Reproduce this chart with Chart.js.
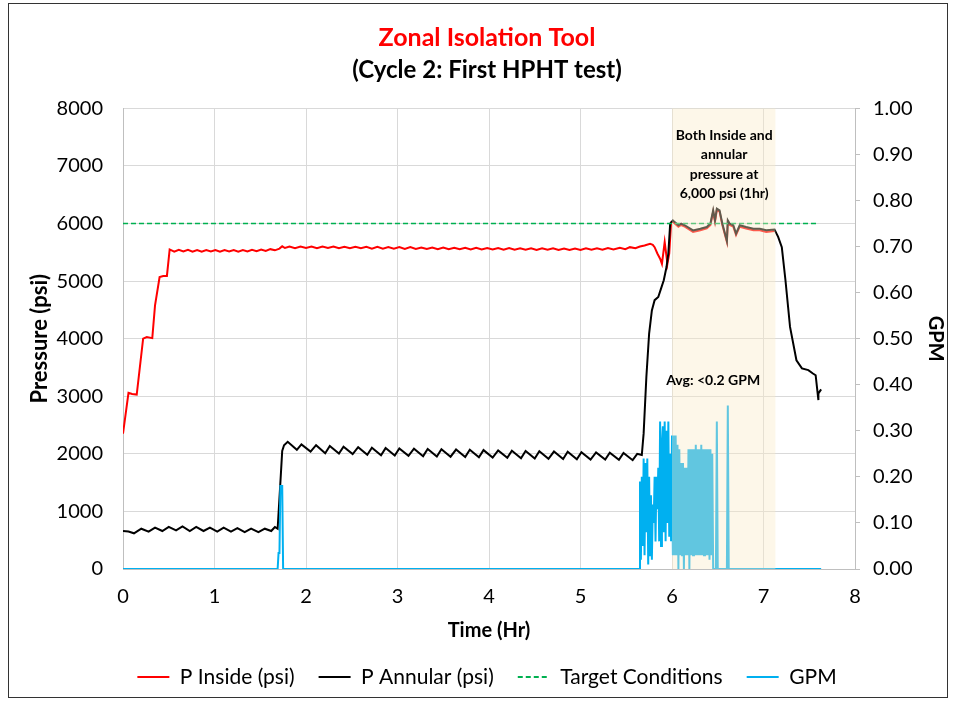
<!DOCTYPE html>
<html>
<head>
<meta charset="utf-8">
<script src="https://cdn.jsdelivr.net/npm/chart.js@4.4.0/dist/chart.umd.min.js"></script>
<style>
  body { margin: 0; background: #fff; }
  #wrap { width: 954px; height: 701px; }
</style>
</head>
<body>
<div id="wrap"><canvas id="myChart" width="954" height="701"></canvas></div>
<script>
// ---- data ----
const insideT = [0.00, 0.06, 0.10, 0.15, 0.22, 0.26, 0.32, 0.35, 0.40, 0.44, 0.48, 0.51,
  0.56, 0.61, 0.66, 0.71, 0.76, 0.81, 0.86, 0.91, 0.96, 1.01, 1.06, 1.11, 1.16, 1.21, 1.26, 1.31,
  1.36, 1.41, 1.46, 1.51, 1.56, 1.61, 1.66, 1.71, 1.74, 1.77, 1.82, 1.88, 1.94, 2.00, 2.06, 2.12,
  2.18, 2.24, 2.30, 2.36, 2.42, 2.48, 2.54, 2.60, 2.66, 2.72, 2.78, 2.84, 2.90, 2.96, 3.02, 3.08,
  3.14, 3.20, 3.26, 3.32, 3.38, 3.44, 3.50, 3.56, 3.62, 3.68, 3.74, 3.80, 3.86, 3.92, 3.98, 4.04,
  4.10, 4.16, 4.22, 4.28, 4.34, 4.40, 4.46, 4.52, 4.58, 4.64, 4.70, 4.76, 4.82, 4.88, 4.94, 5.00,
  5.06, 5.12, 5.18, 5.24, 5.30, 5.36, 5.43, 5.49, 5.54, 5.60, 5.65, 5.70, 5.76, 5.79, 5.81, 5.84,
  5.87, 5.89, 5.92, 5.95, 5.97, 5.99, 6.01, 6.03, 6.07, 6.10, 6.14, 6.23, 6.31, 6.38, 6.42, 6.45,
  6.47, 6.49, 6.52, 6.55, 6.60, 6.61, 6.63, 6.67, 6.70, 6.74, 6.81, 6.89, 6.96, 7.03, 7.12];
const insideP = [2350, 3060, 3040, 3030, 4000, 4030, 4010, 4580, 5070, 5090, 5090, 5550,
  5510, 5545, 5515, 5545, 5510, 5540, 5510, 5540, 5515, 5540, 5510, 5540, 5515, 5540, 5510, 5540,
  5515, 5545, 5520, 5550, 5525, 5555, 5535, 5565, 5605, 5575, 5600, 5570, 5600, 5575, 5600, 5570,
  5600, 5575, 5600, 5570, 5595, 5570, 5595, 5570, 5595, 5565, 5595, 5565, 5590, 5565, 5590, 5560,
  5590, 5560, 5585, 5560, 5585, 5555, 5585, 5555, 5580, 5555, 5580, 5550, 5580, 5550, 5575, 5550,
  5575, 5545, 5575, 5545, 5570, 5545, 5570, 5540, 5570, 5545, 5570, 5540, 5565, 5540, 5565, 5540,
  5570, 5545, 5570, 5545, 5575, 5550, 5580, 5555, 5590, 5570, 5600, 5620, 5650, 5630, 5590, 5480,
  5390, 5300, 5680, 5300, 5480, 6020, 6030, 6000, 5945, 5975, 5945, 5855, 5885, 5915, 5975, 6205,
  6030, 6235, 6205, 5975, 5680, 6030, 5975, 5945, 5800, 5945, 5915, 5885, 5885, 5855, 5870];

const annularT = [0.00, 0.06, 0.12, 0.20, 0.28, 0.35, 0.43, 0.50, 0.58, 0.65, 0.73, 0.80, 0.88,
  0.95, 1.03, 1.10, 1.18, 1.25, 1.33, 1.40, 1.48, 1.55, 1.62, 1.66, 1.69, 1.72, 1.74, 1.76, 1.80,
  1.90, 1.95, 2.05, 2.11, 2.21, 2.26, 2.36, 2.41, 2.51, 2.57, 2.67, 2.72, 2.82, 2.87, 2.97, 3.02,
  3.12, 3.18, 3.28, 3.33, 3.43, 3.48, 3.58, 3.64, 3.74, 3.79, 3.89, 3.94, 4.04, 4.10, 4.20, 4.25,
  4.35, 4.40, 4.50, 4.55, 4.65, 4.71, 4.81, 4.86, 4.96, 5.01, 5.11, 5.17, 5.27, 5.32, 5.42, 5.47,
  5.57, 5.62, 5.65, 5.67, 5.69, 5.72, 5.75, 5.78, 5.81, 5.85, 5.88, 5.91, 5.94, 5.96, 5.98, 6.01,
  6.03, 6.07, 6.10, 6.14, 6.23, 6.31, 6.38, 6.42, 6.45, 6.47, 6.49, 6.52, 6.55, 6.60, 6.61, 6.63,
  6.67, 6.70, 6.74, 6.81, 6.89, 6.96, 7.03, 7.12, 7.16, 7.20, 7.24, 7.29, 7.36, 7.42, 7.49, 7.54,
  7.57, 7.60, 7.60, 7.63];
const annularP = [660, 650, 620, 700, 650, 720, 660, 730, 670, 740, 660, 730, 660,
  720, 650, 720, 650, 710, 640, 700, 640, 700, 660, 730, 700, 1500, 2050, 2150, 2210,
  2070, 2165, 2040, 2150, 2010, 2135, 2005, 2125, 1995, 2115, 1985, 2105, 1975, 2100, 1970, 2095,
  1965, 2090, 1960, 2085, 1955, 2080, 1950, 2075, 1945, 2070, 1940, 2065, 1935, 2060, 1930, 2055,
  1925, 2050, 1920, 2045, 1915, 2040, 1910, 2035, 1905, 2030, 1900, 2025, 1900, 2020, 1895, 2015,
  1890, 2000, 1990, 1980, 2355, 3340, 4090, 4490, 4670, 4725, 4870, 5015, 5245, 5480, 6000, 6055,
  6025, 5970, 6000, 5970, 5880, 5910, 5940, 6000, 6230, 6055, 6260, 6230, 6000, 5700, 6055, 6000,
  5970, 5825, 5970, 5940, 5910, 5910, 5885, 5895, 5770, 5590, 5015, 4205, 3625, 3485, 3455, 3395,
  3365, 2935, 3050, 3120];

const targetT = [0, 7.6];
const targetP = [6000, 6000];

const gpmT = [0.00, 1.69, 1.70, 1.71, 1.72, 1.74, 1.75, 5.64,
  5.65, 5.66, 5.67, 5.68, 5.69, 5.70, 5.71, 5.72, 5.73, 5.74, 5.75, 5.76, 5.77, 5.78, 5.79, 5.80,
  5.81, 5.82, 5.83, 5.84, 5.85, 5.86, 5.87, 5.88, 5.89, 5.90, 5.91, 5.92, 5.93, 5.94, 5.95, 5.96,
  5.97, 5.98, 5.99, 6.00, 6.01, 6.02, 6.03, 6.04, 6.05, 6.06, 6.07, 6.08, 6.09, 6.10, 6.11, 6.12,
  6.13, 6.14, 6.15, 6.16, 6.17, 6.18, 6.19, 6.20, 6.21, 6.22, 6.23, 6.24, 6.25, 6.26, 6.27, 6.28,
  6.29, 6.30, 6.31, 6.32, 6.33, 6.34, 6.35, 6.36, 6.37, 6.38, 6.39, 6.40, 6.41, 6.42, 6.43, 6.44,
  6.45, 6.48, 6.49, 6.50, 6.60, 6.61, 6.62, 7.63];
const gpmV = [0, 0, 0.035, 0.035, 0.18, 0.18, 0, 0,
  0.19, 0.02, 0.20, 0.05, 0.24, 0.03, 0.23, 0.08, 0.24, 0.01, 0.20, 0.03, 0.16, 0.02, 0.14, 0.10,
  0.20, 0.06, 0.20, 0.13, 0.22, 0.06, 0.32, 0.05, 0.27, 0.31, 0.08, 0.32, 0.06, 0.30, 0.10, 0.32,
  0.07, 0.25, 0.06, 0.29, 0.03, 0.29, 0.03, 0.29, 0.03, 0.27, 0.00, 0.26, 0.03, 0.23, 0.03, 0.23,
  0.00, 0.22, 0.03, 0.22, 0.03, 0.26, 0.00, 0.26, 0.03, 0.26, 0.03, 0.26, 0.03, 0.27, 0.03, 0.26,
  0.03, 0.26, 0.03, 0.27, 0.03, 0.26, 0.03, 0.26, 0.03, 0.26, 0.03, 0.26, 0.02, 0.26, 0.03, 0.25,
  0, 0, 0.32, 0, 0, 0.355, 0, 0];

// hold period band and notes
const holdStart = 6.0, holdEnd = 7.13;
const noteLines = ['Both Inside and', 'annular', 'pressure at', '6,000 psi (1hr)'];
const avgNote = 'Avg: <0.2 GPM';

function pts(xs, ys) {
    return xs.map((x, i) => ({ x: x, y: ys[i] }));
}

Chart.defaults.font.family = 'Lato';
Chart.defaults.color = '#000';

// white page + outer chart border
const frame = {
    id: 'frame',
    beforeDraw(chart) {
        const ctx = chart.ctx;
        ctx.save();
        ctx.fillStyle = '#fff';
        ctx.fillRect(0, 0, chart.width, chart.height);
        ctx.strokeStyle = '#333';
        ctx.lineWidth = 1;
        ctx.strokeRect(8.5, 3.5, 939, 694);
        ctx.restore();
    }
};

// shaded 1hr hold band, drawn over the lines, plus the text notes
const holdBand = {
    id: 'holdBand',
    afterDatasetsDraw(chart) {
        const ctx = chart.ctx, xs = chart.scales.x, ys = chart.scales.y, area = chart.chartArea;
        const x0 = xs.getPixelForValue(holdStart), x1 = xs.getPixelForValue(holdEnd);
        ctx.save();
        ctx.fillStyle = 'rgba(250, 234, 198, 0.39)';
        ctx.fillRect(x0, area.top, x1 - x0, area.bottom - area.top);

        ctx.fillStyle = '#000';
        ctx.font = 'bold 14px Lato';
        ctx.textAlign = 'center';
        ctx.textBaseline = 'middle';
        const cx = xs.getPixelForValue(6.57);
        let y = ys.getPixelForValue(7530);
        noteLines.forEach(t => { ctx.fillText(t, cx, y); y += 19.5; });
        ctx.fillText(avgNote, xs.getPixelForValue(6.45), ys.getPixelForValue(3270));
        ctx.restore();
    }
};

// legend lines: carry the dataset dash into the legend sample
const baseLabels = Chart.defaults.plugins.legend.labels.generateLabels;

new Chart(document.getElementById('myChart'), {
    type: 'line',
    data: {
        datasets: [
            { label: 'P Inside (psi)', data: pts(insideT, insideP), borderColor: '#FF0000', borderWidth: 2,
              pointRadius: 0, tension: 0, yAxisID: 'y', order: 4 },
            { label: 'P Annular (psi)', data: pts(annularT, annularP), borderColor: '#000000', borderWidth: 2,
              pointRadius: 0, tension: 0, yAxisID: 'y', order: 3 },
            { label: 'Target Conditions', data: pts(targetT, targetP), borderColor: '#00B050', borderWidth: 1.5,
              borderDash: [5, 3], pointRadius: 0, yAxisID: 'y', order: 2 },
            { label: 'GPM', data: pts(gpmT, gpmV), borderColor: '#00B0F0', borderWidth: 2,
              pointRadius: 0, tension: 0, yAxisID: 'y1', order: 1 }
        ]
    },
    options: {
        responsive: false,
        maintainAspectRatio: false,
        animation: false,
        layout: { padding: { top: 4, left: 20, right: 0, bottom: 3.5 } },
        plugins: {
            title: {
                display: true,
                text: 'Zonal Isolation Tool',
                color: '#FF0000',
                font: { size: 25, weight: 'bold' },
                padding: { top: 19, bottom: 0 }
            },
            subtitle: {
                display: true,
                text: '(Cycle 2: First HPHT test)',
                color: '#000',
                font: { size: 24, weight: 'bold' },
                padding: { top: 3, bottom: 23.6 }
            },
            legend: {
                display: true,
                position: 'bottom',
                labels: {
                    usePointStyle: true,
                    pointStyle: 'line',
                    pointStyleWidth: 32,
                    padding: 24,
                    color: '#000',
                    font: { size: 21 },
                    sort: (a, b) => a.datasetIndex - b.datasetIndex,
                    generateLabels: chart => baseLabels(chart).map(l => {
                        l.lineDash = chart.data.datasets[l.datasetIndex].borderDash || [];
                        l.lineWidth = 2;
                        return l;
                    })
                }
            },
            tooltip: { enabled: false }
        },
        scales: {
            x: {
                type: 'linear',
                min: 0, max: 8,
                ticks: { stepSize: 1, padding: 16, font: { size: 20 }, color: '#000' },
                grid: { color: '#d9d9d9', drawTicks: false },
                border: { color: '#bfbfbf' },
                title: { display: true, text: 'Time (Hr)', font: { size: 20, weight: 'bold' }, color: '#000',
                         padding: { top: 0, bottom: -0.5 } },
                afterFit: s => { s.height = 73.5; }
            },
            y: {
                position: 'left',
                min: 0, max: 8000,
                ticks: { stepSize: 1000, padding: 20, font: { size: 20 }, color: '#000',
                         callback: v => String(v) },
                grid: { color: '#d9d9d9', drawTicks: false },
                border: { color: '#bfbfbf' },
                title: { display: true, text: 'Pressure (psi)', font: { size: 22, weight: 'bold' }, color: '#000',
                         padding: { top: 6.8, bottom: 0 } },
                afterFit: s => { s.width = 103; }
            },
            y1: {
                position: 'right',
                min: 0, max: 1,
                ticks: { stepSize: 0.1, padding: 13, font: { size: 20 }, color: '#000',
                         callback: v => v.toFixed(2) },
                grid: { drawOnChartArea: false, color: '#bfbfbf', tickLength: 5 },
                border: { color: '#bfbfbf' },
                title: { display: true, text: 'GPM', font: { size: 20, weight: 'bold' }, color: '#000',
                         padding: { top: 7, bottom: 0 } },
                afterFit: s => { s.width = 99; }
            }
        }
    },
    plugins: [frame, holdBand]
});
</script>
</body>
</html>
